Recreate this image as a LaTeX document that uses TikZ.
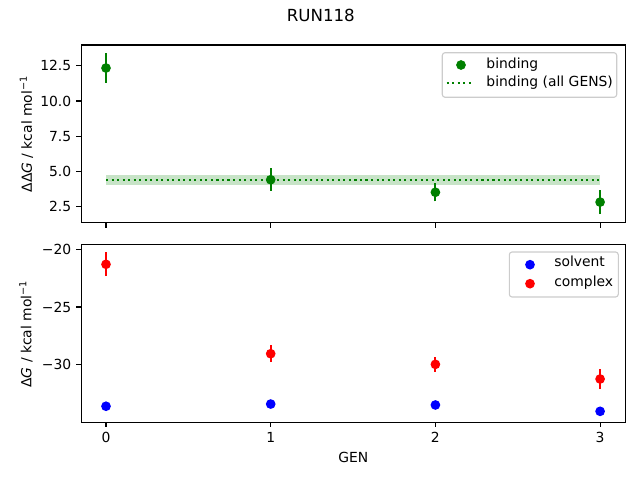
\documentclass[tikz,border=0pt]{standalone}
\usepackage{fontspec}
\setmainfont{DejaVu Sans}
\definecolor{mplgreen}{RGB}{0,128,0}
\definecolor{mplred}{RGB}{255,0,0}
\definecolor{mplblue}{RGB}{0,0,255}
\begin{document}
\begin{tikzpicture}[x=0.72pt,y=0.72pt,
    spine/.style={line width=0.8pt},
    dot/.style={circle,inner sep=0pt,minimum size=7pt},
    errbar/.style={line width=1.5pt},
    dotline/.style={mplgreen,line width=1.5pt,dash pattern=on 1.5pt off 2.475pt},
    ticklabel/.style={inner sep=0pt},
    legendbox/.style={draw=black!20,fill=white,rounded corners=2pt,line width=0.8pt}]
\useasboundingbox (0,0) rectangle (640,480);
% Title
\node[font=\fontsize{12}{14}\selectfont] (title) at (320.8,464.5) {RUN118};
% Axes frames
\draw[spine] (81.3,257.3) rectangle (625.3,435);
\draw[spine] (81.3,57.7) rectangle (625.3,235.7);
% Ticks
\foreach \v/\t in {2.5/2.5,5/5.0,7.5/7.5,10/10.0,12.5/12.5}{
  \draw[spine] (81.3,{238.35+14.07*\v}) -- ++(-4.86,0);
  \node[ticklabel,anchor=east] (ytop\t) at (71.5,{238.35+14.07*\v}) {\t};
}
\foreach \v/\t in {-20/−20,-25/−25,-30/−30}{
  \draw[spine] (81.3,{461.5+11.54*\v}) -- ++(-4.86,0);
  \node[ticklabel,anchor=east] (ybot\v) at (71.5,{461.5+11.54*\v}) {\t};
}
\foreach \g in {0,...,3}{
  \draw[spine] ({106+164.7*\g},257.3) -- ++(0,-4.86);
  \draw[spine] ({106+164.7*\g},57.7) -- ++(0,-4.86);
  \node[ticklabel,anchor=north] (gen\g) at ({106+164.7*\g},47.7) {\g};
}
% Axis labels
\node[rotate=90] (ylabtop) at (26.5,346) {ΔΔ\textit{G} / kcal mol\textsuperscript{−1}};
\node[rotate=90] (ylabbot) at (26,146) {Δ\textit{G} / kcal mol\textsuperscript{−1}};
\node (xlab) at (353.3,22.3) {GEN};
% Binding
\begin{scope}[shift={(106,238.35)},xscale=164.7,yscale=14.07]
  \fill[mplgreen,opacity=0.22] (0,4.0) rectangle (3,4.76);
  \draw[dotline] (0,4.38) -- (3,4.38);
  \foreach \g/\v/\e in {0/12.34/1.06,1/4.40/0.8,2/3.51/0.65,3/2.81/0.86}{
    \draw[errbar,mplgreen] (\g,{\v-\e}) -- (\g,{\v+\e});
    \node[dot,fill=mplgreen] (bind\g) at (\g,\v) {};
  }
\end{scope}
% Solvent and complex
\begin{scope}[shift={(106,461.5)},xscale=164.7,yscale=11.54]
  \foreach \g/\v in {0/-33.60,1/-33.41,2/-33.49,3/-34.04}{
    \node[dot,fill=mplblue] (solv\g) at (\g,\v) {};
  }
  \foreach \g/\v/\e in {0/-21.30/1.03,1/-29.05/0.73,2/-29.97/0.63,3/-31.24/0.87}{
    \draw[errbar,mplred] (\g,{\v-\e}) -- (\g,{\v+\e});
    \node[dot,fill=mplred] (comp\g) at (\g,\v) {};
  }
\end{scope}
% Legends
\draw[legendbox] (442.3,427.3) rectangle (616.7,382.7);
\node[dot,fill=mplgreen] (legbind) at (461,415) {};
\node[anchor=base west,inner sep=0pt] (txtbind) at (486.2,411) {binding};
\draw[dotline] (446.7,396.7) -- (474.3,396.7);
\node[anchor=base west,inner sep=0pt] (txtall) at (486.2,393.3) {binding (all GENS)};
\draw[legendbox] (509.3,228) rectangle (618.3,183);
\node[dot,fill=mplblue] (legsolv) at (530,215.3) {};
\node[anchor=base west,inner sep=0pt] (txtsolv) at (554,213) {solvent};
\node[dot,fill=mplred] (legcomp) at (530,196.3) {};
\node[anchor=base west,inner sep=0pt] (txtcomp) at (554,193) {complex};
\end{tikzpicture}
\end{document}
